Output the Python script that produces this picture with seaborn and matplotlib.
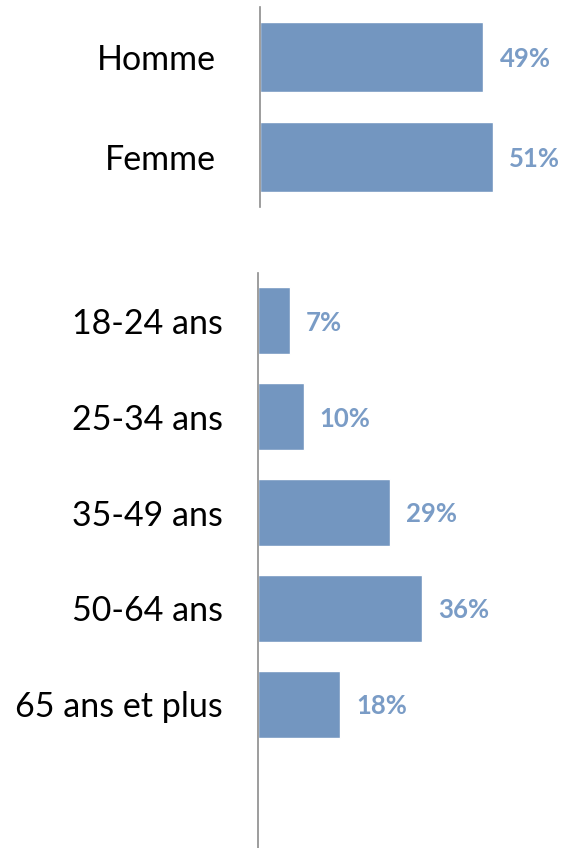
import pandas as pd
import seaborn as sns
import matplotlib.pyplot as plt

sns.set_theme(style="white")
plt.rcParams['font.family'] = ['Lato', 'DejaVu Sans']

# Data
sexe_labels = ["Homme", "Femme"]
sexe_values = [49, 51]

age_labels = ["18-24 ans", "25-34 ans", "35-49 ans", "50-64 ans", "65 ans et plus"]
age_values = [7, 10, 29, 36, 18]

bar_color = "#7396C0"
text_color = "#7A9CC6"
W, H = 564, 848
px_per_pct = 4.56

fig = plt.figure(figsize=(W / 100, H / 100), dpi=100)

def panel(rect_px, labels, values, n_slots, pad_px):
    left, top, bottom = rect_px
    ax = fig.add_axes([left / W, 1 - bottom / H, (W - left) / W, (bottom - top) / H])
    df = pd.DataFrame({"cat": labels, "val": values})
    sns.barplot(data=df, y="cat", x="val", orient="h", color=bar_color,
                saturation=1, width=0.7, ax=ax)
    ax.set_xlim(0, (W - left) / px_per_pct)
    ax.set_ylim(n_slots - 0.5, -0.5)
    for i, v in enumerate(values):
        ax.text(v + 16 / px_per_pct, i + 0.02, f"{v}%", va="center", ha="left",
                color=text_color, fontsize=18.5, fontweight="bold")
    for s in ["top", "right", "bottom"]:
        ax.spines[s].set_visible(False)
    ax.spines["left"].set_color("#8c8c8c")
    ax.spines["left"].set_linewidth(1.2)
    ax.set_xticks([])
    ax.tick_params(axis="y", length=0, pad=pad_px * 0.72, labelsize=24.5, labelcolor="black")
    ax.set_xlabel("")
    ax.set_ylabel("")
    ax.patch.set_alpha(0)
    return ax

panel((260, 7, 207), sexe_labels, sexe_values, 2, 44)
panel((258, 273, 848), age_labels, age_values, 6, 35)

plt.savefig("out.png", dpi=100)
